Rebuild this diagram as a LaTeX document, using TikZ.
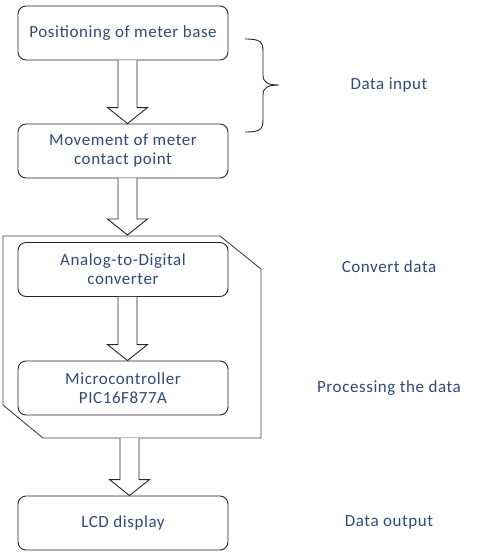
\documentclass[tikz,border=0pt]{standalone}
\usepackage{fontspec}
\setmainfont{Carlito}
\newfontfamily\lblfont[LetterSpace=3.4]{Carlito}
\usetikzlibrary{calc}
\definecolor{txt}{HTML}{2E4A7A}
\tikzset{
  box/.style={draw=black!85, line width=0.9pt, rounded corners=8pt, minimum width=210pt, minimum height=54pt, inner sep=0pt, align=center, text=txt, font=\lblfont\fontsize{17}{19}\selectfont},
  lbl/.style={text=txt, font=\lblfont\fontsize{17}{19}\selectfont, inner sep=0pt},
  barrow/.style={draw=black!85, line width=0.9pt, fill=white, line join=miter},
  outline/.style={draw=black!75, line width=0.9pt},
}
\newcommand\blockarrow[2]{%
  \draw[barrow] ($(#1)+(-9.5,0)$) -- ($(#2)+(-9.5,-16)$) -- ($(#2)+(-20,-16)$) -- (#2) -- ($(#2)+(20,-16)$) -- ($(#2)+(9.5,-16)$) -- ($(#1)+(9.5,0)$);}
\begin{document}
\begin{tikzpicture}[x=1pt,y=-1pt]
\useasboundingbox (0,0) rectangle (498,552);
% outer frame
\draw[outline] (3,236) -- (220,236) -- (261,269) -- (261,438) -- (43,438) -- (3,405) -- cycle;
% boxes
\node[box] (b1) at (123,33) {Positioning of meter base};
\node[box] (b2) at (123,151) {Movement of meter\\contact point};
\node[box] (b3) at (123,269.5) {Analog-to-Digital\\converter};
\node[box] (b4) at (123,388) {Microcontroller\\PIC16F877A};
\node[box] (b5) at (123,523) {LCD display};
% arrows
\coordinate (a1s) at ($(b1.south)+(4.5,0)$);
\coordinate (a1e) at ($(b2.north)+(4.5,0)$);
\blockarrow{a1s}{a1e}
\coordinate (a2s) at ($(b2.south)+(4.5,0)$);
\coordinate (a2e) at (127.5,235);
\blockarrow{a2s}{a2e}
\coordinate (a3s) at ($(b3.south)+(4.5,0)$);
\coordinate (a3e) at ($(b4.north)+(4.5,0)$);
\blockarrow{a3s}{a3e}
\coordinate (a4s) at (129.5,438);
\coordinate (a4e) at ($(b5.north)+(6.5,0)$);
\blockarrow{a4s}{a4e}
% brace
\draw[black!85, line width=0.9pt] (245,39) .. controls (261,39) and (263,42) .. (263,52) -- (263,75) .. controls (263,82) and (267,85) .. (279,85) .. controls (267,85) and (263,88) .. (263,95) -- (263,119) .. controls (263,129) and (261,132) .. (245,132);
% labels
\node[lbl] (l1) at (389,85) {Data input};
\node[lbl] (l2) at (389,267) {Convert data};
\node[lbl] (l3) at (389,388) {Processing the data};
\node[lbl] (l4) at (389,522) {Data output};
\end{tikzpicture}
\end{document}
